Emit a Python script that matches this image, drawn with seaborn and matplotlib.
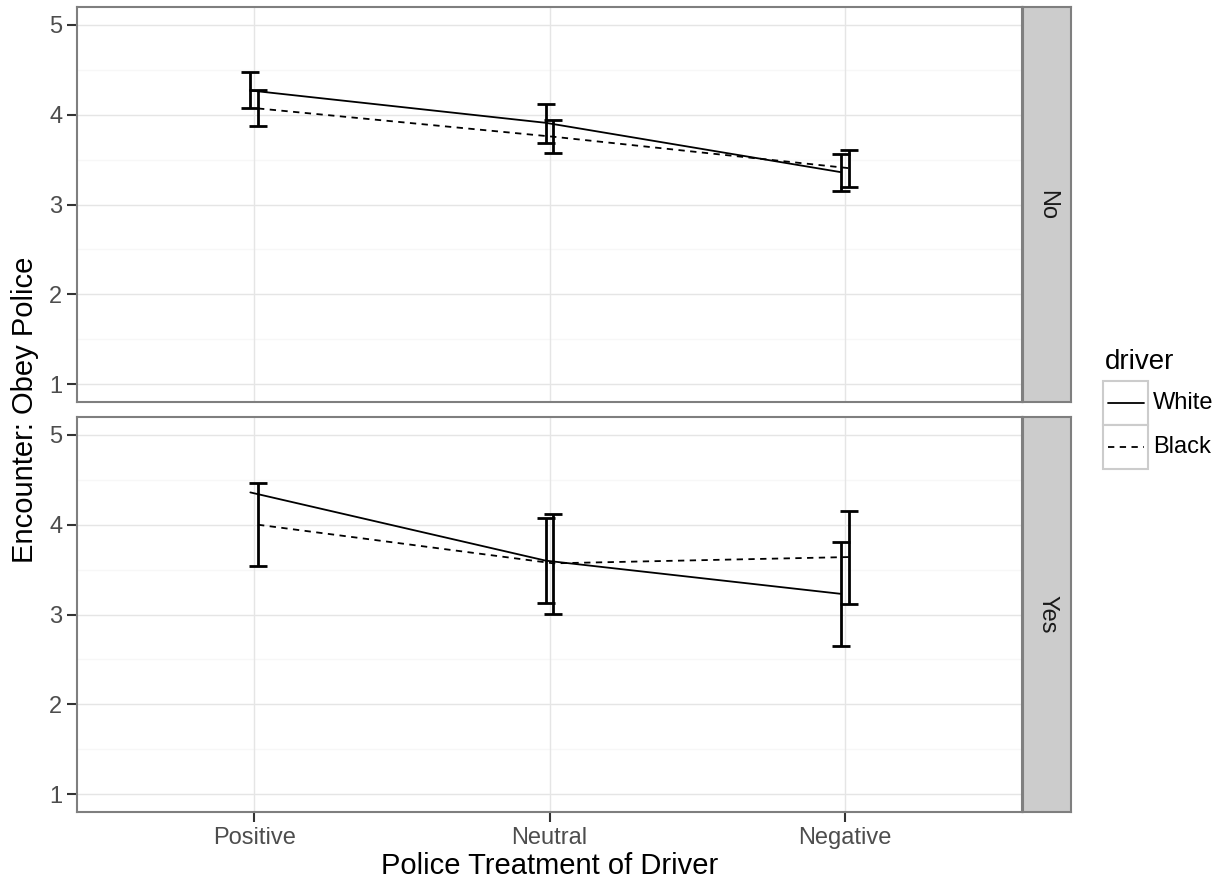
import numpy as np
import pandas as pd
import matplotlib
matplotlib.use("Agg")
import matplotlib.pyplot as plt
from matplotlib.patches import Rectangle
from matplotlib.lines import Line2D
import seaborn as sns

# ---- data ----
treatments = ["Positive", "Neutral", "Negative"]
drivers = ["White", "Black"]
encounters = ["No", "Yes"]

no_white_mean = [4.27, 3.91, 3.36]
no_white_lo = [4.07, 3.69, 3.15]
no_white_hi = [4.48, 4.12, 3.56]
no_black_mean = [4.07, 3.755, 3.405]
no_black_lo = [3.87, 3.57, 3.20]
no_black_hi = [4.28, 3.94, 3.61]

yes_white_mean = [4.36, 3.60, 3.23]
yes_white_lo = [np.nan, 3.13, 2.65]
yes_white_hi = [np.nan, 4.07, 3.81]
yes_black_mean = [4.00, 3.57, 3.64]
yes_black_lo = [3.54, 3.01, 3.12]
yes_black_hi = [4.46, 4.12, 4.15]

y_ticks = [1, 2, 3, 4, 5]

series = {
    ("No", "White"): (no_white_mean, no_white_lo, no_white_hi),
    ("No", "Black"): (no_black_mean, no_black_lo, no_black_hi),
    ("Yes", "White"): (yes_white_mean, yes_white_lo, yes_white_hi),
    ("Yes", "Black"): (yes_black_mean, yes_black_lo, yes_black_hi),
}
rows = []
for (enc, drv), (m, lo, hi) in series.items():
    for i, t in enumerate(treatments):
        rows.append(dict(encounter=enc, driver=drv, treatment=t, idx=i + 1,
                         mean=m[i], lo=lo[i], hi=hi[i]))
df = pd.DataFrame(rows)
dodge = {"White": -0.013, "Black": 0.013}
df["xpos"] = df["idx"] + df["driver"].map(dodge)

# ---- styling ----
sns.set_theme(style="white")
plt.rcParams["font.family"] = ["Liberation Sans", "DejaVu Sans"]

W, H = 1225, 886
fig = plt.figure(figsize=(W / 100, H / 100), dpi=100)

def fx(px):
    return px / W

def fy(py):
    return 1 - py / H

panel_left, panel_right = 77, 1022
panels = {"No": (7, 402), "Yes": (417, 812)}
strip_l, strip_r = 1023, 1071

grey50 = "#7F7F7F"
tick_col = "#4D4D4D"
dash_pat = (3.5, 3)

for enc, (top, bot) in panels.items():
    ax = fig.add_axes([fx(panel_left), fy(bot), fx(panel_right) - fx(panel_left),
                       fy(top) - fy(bot)])
    sub = df[df["encounter"] == enc]
    ax.set_xlim(0.4, 3.6)
    ax.set_ylim(0.8, 5.2)
    # grid
    for v in np.arange(1.5, 5.0, 1.0):
        ax.axhline(v, color="#F7F7F7", lw=1.0, zorder=0)
    for v in y_ticks:
        ax.axhline(v, color="#E5E5E5", lw=1.0, zorder=0)
    for v in range(1, len(treatments) + 1):
        ax.axvline(v, color="#E5E5E5", lw=1.0, zorder=0)

    sns.lineplot(data=sub, x="xpos", y="mean", style="driver",
                 style_order=drivers, dashes={"White": "", "Black": dash_pat},
                 color="black", lw=1.3, estimator=None, errorbar=None,
                 legend=False, ax=ax, zorder=3)
    eb = sub.dropna(subset=["lo", "hi"])
    ax.errorbar(eb["xpos"], eb["mean"],
                yerr=[eb["mean"] - eb["lo"], eb["hi"] - eb["mean"]],
                fmt="none", ecolor="black", elinewidth=2.0, capsize=6.4,
                capthick=2.0, zorder=4)

    ax.set_yticks(y_ticks)
    ax.set_yticklabels([str(v) for v in y_ticks])
    ax.set_xticks(range(1, len(treatments) + 1))
    ax.tick_params(axis="both", labelsize=17, labelcolor=tick_col, colors="#333333",
                   length=7, width=1.5, pad=3.5, left=True, bottom=True)
    if enc == "Yes":
        ax.set_xticklabels(treatments)
    else:
        ax.set_xticklabels([])
        ax.tick_params(axis="x", length=0, bottom=False)
    ax.set_xlabel("")
    ax.set_ylabel("")
    for s in ax.spines.values():
        s.set_color(grey50)
        s.set_linewidth(1.5)
        s.set_visible(True)

    # strip
    sax = fig.add_axes([fx(strip_l), fy(bot), fx(strip_r) - fx(strip_l),
                        fy(top) - fy(bot)])
    sax.set_facecolor("#CCCCCC")
    sax.set_xticks([])
    sax.set_yticks([])
    for s in sax.spines.values():
        s.set_color(grey50)
        s.set_linewidth(1.5)
    sax.text(0.5, 0.5, enc, rotation=-90, ha="center", va="center",
             fontsize=17, color="#1A1A1A", transform=sax.transAxes)

# axis titles
fig.text(fx(25), fy(410), "Encounter: Obey Police", rotation=90, ha="center",
         va="center", fontsize=21, color="black")
fig.text(fx((panel_left + panel_right) / 2), fy(866), "Police Treatment of Driver",
         ha="center", va="center", fontsize=21, color="black")

# legend drawn in pixel coordinates
lax = fig.add_axes([0, 0, 1, 1])
lax.set_xlim(0, W)
lax.set_ylim(H, 0)
lax.axis("off")
lax.patch.set_alpha(0)
lax.text(1105, 362, "driver", ha="left", va="center", fontsize=20, color="black")
key_top = 381
key_h = 44
for i, drv in enumerate(drivers):
    y0 = key_top + i * key_h
    lax.add_patch(Rectangle((1103, y0), 45, key_h, facecolor="white",
                            edgecolor="#CCCCCC", lw=1.5))
    yc = y0 + key_h / 2
    ls = "-" if drv == "White" else (0, dash_pat)
    lax.add_line(Line2D([1108, 1144], [yc, yc], color="black", lw=1.3, linestyle=ls))
    lax.text(1153, yc, drv, ha="left", va="center", fontsize=17, color="black")

fig.savefig("out.png", dpi=100)
